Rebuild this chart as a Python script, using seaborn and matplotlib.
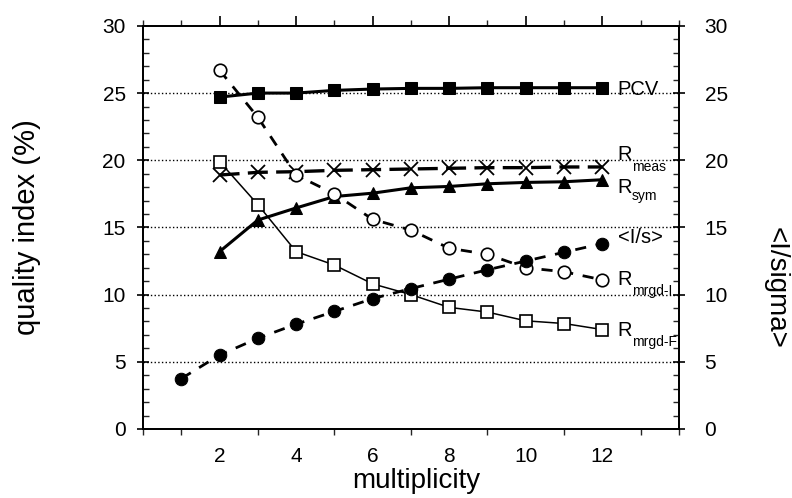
import seaborn as sns
import matplotlib.pyplot as plt
from matplotlib.ticker import MultipleLocator

mult = [2, 3, 4, 5, 6, 7, 8, 9, 10, 11, 12]
mult_is = [1, 2, 3, 4, 5, 6, 7, 8, 9, 10, 11, 12]

pcv = [24.7, 25.0, 25.0, 25.2, 25.3, 25.35, 25.35, 25.4, 25.4, 25.4, 25.4]
r_meas = [18.9, 19.1, 19.15, 19.25, 19.3, 19.35, 19.4, 19.45, 19.45, 19.5, 19.5]
r_sym = [13.2, 15.55, 16.45, 17.3, 17.55, 17.95, 18.05, 18.25, 18.35, 18.4, 18.55]
r_mrgd_i = [26.7, 23.2, 18.9, 17.5, 15.6, 14.8, 13.45, 13.0, 12.0, 11.7, 11.1]
r_mrgd_f = [19.9, 16.7, 13.2, 12.2, 10.8, 10.0, 9.05, 8.7, 8.05, 7.85, 7.4]
i_sigma = [3.75, 5.5, 6.75, 7.8, 8.75, 9.7, 10.45, 11.15, 11.85, 12.5, 13.15, 13.8]

# curve labels at the right end: main text, subscript
main_labels = ["PCV", "R", "R", "<I/s>", "R", "R"]
sub_labels = ["", "meas", "sym", "", "mrgd-I", "mrgd-F"]
main_y = [24.85, 20.0, 17.6, 13.85, 10.7, 6.9]
sub_y = [0, 19.2, 17.05, 0, 10.0, 6.2]

sns.set_style("white")
plt.rcParams['font.family'] = ['Liberation Sans', 'DejaVu Sans']
plt.rcParams['text.color'] = 'black'
plt.rcParams['axes.labelcolor'] = 'black'

fig = plt.figure(figsize=(7.92, 4.98), dpi=100)
ax = fig.add_axes([0.1806, 0.1386, 0.6765, 0.8094])
ax2 = ax.twinx()

for y in [5, 10, 15, 20, 25]:
    ax.axhline(y, color='black', linestyle=':', linewidth=1.0, zorder=0)

sns.lineplot(x=mult, y=pcv, ax=ax, color='black', linewidth=2.2, marker='s',
             markersize=9, markeredgecolor='black', markerfacecolor='black')
sns.lineplot(x=mult, y=r_meas, ax=ax, color='black', linewidth=2.4, linestyle=(0, (6, 2.5)),
             marker='x', markersize=10, markeredgewidth=1.3, markeredgecolor='black')
sns.lineplot(x=mult, y=r_sym, ax=ax, color='black', linewidth=2.2, marker='^',
             markersize=9, markeredgecolor='black', markerfacecolor='black')
sns.lineplot(x=mult, y=r_mrgd_i, ax=ax, color='black', linewidth=2.0, linestyle=(0, (4, 3.5)),
             marker='o', markersize=9, markeredgewidth=1.2, markeredgecolor='black',
             markerfacecolor='white')
sns.lineplot(x=mult, y=r_mrgd_f, ax=ax, color='black', linewidth=1.1, marker='s',
             markersize=9, markeredgewidth=1.2, markeredgecolor='black', markerfacecolor='white')
sns.lineplot(x=mult_is, y=i_sigma, ax=ax2, color='black', linewidth=2.0, linestyle=(0, (4, 3.5)),
             marker='o', markersize=9, markeredgecolor='black', markerfacecolor='black')

for m, s, ym, ys in zip(main_labels, sub_labels, main_y, sub_y):
    ax.text(12.4, ym, m, fontsize=14.5, va='baseline', ha='left')
    if s:
        ax.text(12.77, ys, s, fontsize=10, va='baseline', ha='left')

for a in (ax, ax2):
    a.set_xlim(0, 14)
    a.set_ylim(0, 30)
    a.yaxis.set_major_locator(MultipleLocator(5))
    a.yaxis.set_minor_locator(MultipleLocator(1))
    for s in a.spines.values():
        s.set_linewidth(1.3)
        s.set_color('black')

ax.set_xticks([2, 4, 6, 8, 10, 12])
ax.xaxis.set_minor_locator(MultipleLocator(1))
ax.tick_params(axis='y', which='major', direction='inout', length=9, width=1.2,
               labelsize=15, pad=8, colors='black')
ax.tick_params(axis='y', which='minor', direction='in', length=4, width=1.0, left=True)
ax.tick_params(axis='x', which='major', direction='out', length=7, width=1.2,
               labelsize=15, pad=6, top=True, colors='black')
ax.tick_params(axis='x', which='minor', direction='out', length=4, width=1.0, bottom=True, top=True)
ax2.tick_params(axis='y', which='major', direction='inout', length=9, width=1.2, labelsize=15,
                pad=14, right=True, colors='black')
ax2.tick_params(axis='y', which='minor', direction='in', length=4, width=1.0, right=True)

ax.set_xlabel("multiplicity", fontsize=20)
ax.xaxis.set_label_coords(0.51, -0.097)
ax.set_ylabel("quality index (%)", fontsize=21)
ax.yaxis.set_label_coords(-0.19, 0.5)
ax2.set_ylabel("<I/sigma>", fontsize=20, rotation=270, va='center')
ax2.yaxis.set_label_coords(1.181, 0.35)

fig.savefig("out.png", dpi=100)
